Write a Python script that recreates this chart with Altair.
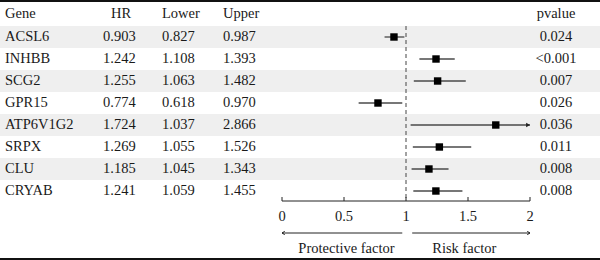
import altair as alt
import pandas as pd

genes = ["ACSL6", "INHBB", "SCG2", "GPR15", "ATP6V1G2", "SRPX", "CLU", "CRYAB"]
hr = [0.903, 1.242, 1.255, 0.774, 1.724, 1.269, 1.185, 1.241]
lower = [0.827, 1.108, 1.063, 0.618, 1.037, 1.055, 1.045, 1.059]
upper = [0.987, 1.393, 1.482, 0.970, 2.866, 1.526, 1.343, 1.455]
pvalues = ["0.024", "<0.001", "0.007", "0.026", "0.036", "0.011", "0.008", "0.008"]
headers = ["Gene", "HR", "Lower", "Upper", "pvalue"]
tick_values = [0, 0.5, 1, 1.5, 2]
tick_labels = ["0", "0.5", "1", "1.5", "2"]
direction_labels = ["Protective factor", "Risk factor"]

FONT = "Liberation Serif"
FS = 14.5
TXT = "#1a1a1a"
XMAX = 2

df = pd.DataFrame({
    "gene": genes,
    "hr": hr,
    "lower": lower,
    "upper": upper,
    "p": pvalues,
})
df["row"] = range(len(df))
df["mid"] = df["row"] + 0.5
df["row2"] = df["row"] + 1
df["hr_s"] = [f"{v:.3f}" for v in hr]
df["lo_s"] = [f"{v:.3f}" for v in lower]
df["up_s"] = [f"{v:.3f}" for v in upper]
df["up_c"] = [min(v, XMAX) for v in upper]
df["over"] = [v > XMAX for v in upper]

xs = alt.Scale(domain=[0, 2], range=[282, 530], nice=False, zero=False)
ys = alt.Scale(domain=[0, 8], range=[26, 202], nice=False, zero=False)

base = alt.Chart(df)

bands = base.transform_filter("datum.row % 2 == 0").mark_rect(color="#efefef").encode(
    x=alt.value(0), x2=alt.value(600),
    y=alt.Y("row:Q", scale=ys, axis=None), y2="row2:Q",
)

frame_top = alt.Chart(pd.DataFrame({"a": [0]})).mark_rule(color="#111", strokeWidth=2).encode(
    x=alt.value(0), x2=alt.value(600), y=alt.value(1)
)
frame_bot = alt.Chart(pd.DataFrame({"a": [0]})).mark_rule(color="#111", strokeWidth=2).encode(
    x=alt.value(0), x2=alt.value(600), y=alt.value(259)
)

ref = alt.Chart(pd.DataFrame({"v": [1]})).mark_rule(color="#444", strokeDash=[4, 3], strokeWidth=1).encode(
    x=alt.X("v:Q", scale=xs, axis=None), y=alt.value(26), y2=alt.value(201)
)

ci = base.mark_rule(color="#4a4a4a", strokeWidth=1.3).encode(
    x=alt.X("lower:Q", scale=xs, axis=None), x2="up_c:Q",
    y=alt.Y("mid:Q", scale=ys, axis=None),
)

arrow_path = "M-1,-0.6 L0,0 L-1,0.6"
ci_arrow = base.transform_filter("datum.over").mark_point(
    shape="M-1,-0.55 L0,0 L-1,0.55 Z", filled=True, color="#222", size=60, opacity=1
).encode(
    x=alt.X("up_c:Q", scale=xs, axis=None),
    y=alt.Y("mid:Q", scale=ys, axis=None),
)

pts = base.mark_point(shape="square", filled=True, color="#000", size=55, opacity=1).encode(
    x=alt.X("hr:Q", scale=xs, axis=None),
    y=alt.Y("mid:Q", scale=ys, axis=None),
)

def col(field, xpos, align="left"):
    return base.mark_text(font=FONT, fontSize=FS, color=TXT, align=align, baseline="middle").encode(
        x=alt.value(xpos), y=alt.Y("mid:Q", scale=ys, axis=None), text=f"{field}:N"
    )

cols = [col("gene", 5), col("hr_s", 103), col("lo_s", 162), col("up_s", 223), col("p", 556, "center")]

hdf = pd.DataFrame({"h": headers, "hx": [5, 111, 162, 223, 556], "al": ["l", "l", "l", "l", "c"]})
hdr_left = alt.Chart(hdf).transform_filter("datum.al == 'l'").mark_text(
    font=FONT, fontSize=FS, color=TXT, align="left", baseline="middle"
).encode(x=alt.X("hx:Q", scale=None), y=alt.value(14), text="h:N")
hdr_c = alt.Chart(hdf).transform_filter("datum.al == 'c'").mark_text(
    font=FONT, fontSize=FS, color=TXT, align="center", baseline="middle"
).encode(x=alt.X("hx:Q", scale=None), y=alt.value(14), text="h:N")

# axis drawn from the tick list through the shared x scale
tdf = pd.DataFrame({"t": tick_values, "lab": tick_labels})
axis_line = alt.Chart(pd.DataFrame({"a": [tick_values[0]], "b": [tick_values[-1]]})).mark_rule(
    color="#222", strokeWidth=1
).encode(x=alt.X("a:Q", scale=xs, axis=None), x2="b:Q", y=alt.value(201))
ticks = alt.Chart(tdf).mark_rule(color="#222", strokeWidth=1).encode(
    x=alt.X("t:Q", scale=xs, axis=None), y=alt.value(197), y2=alt.value(201),
)
tick_text = alt.Chart(tdf).mark_text(font=FONT, fontSize=FS, color=TXT, align="center", baseline="middle").encode(
    x=alt.X("t:Q", scale=xs, axis=None), y=alt.value(217), text="lab:N"
)

adf = pd.DataFrame({"x1": [0.97, 1.05], "x2": [0.0, 2.0], "lab": direction_labels,
                    "lx": [0.52, 1.47], "dir": ["l", "r"]})
arr_lines = alt.Chart(adf).mark_rule(color="#222", strokeWidth=1).encode(
    x=alt.X("x1:Q", scale=xs, axis=None), x2="x2:Q", y=alt.value(233)
)
head_r = alt.Chart(adf).transform_filter("datum.dir == 'r'").mark_point(
    shape=arrow_path, filled=False, color="#222", size=30, strokeWidth=1, opacity=1
).encode(x=alt.X("x2:Q", scale=xs, axis=None), y=alt.value(233))
head_l = alt.Chart(adf).transform_filter("datum.dir == 'l'").mark_point(
    shape="M1,-0.6 L0,0 L1,0.6", filled=False, color="#222", size=30, strokeWidth=1, opacity=1
).encode(x=alt.X("x2:Q", scale=xs, axis=None), y=alt.value(233))
arr_text = alt.Chart(adf).mark_text(font=FONT, fontSize=FS, color=TXT, align="center", baseline="middle").encode(
    x=alt.X("lx:Q", scale=xs, axis=None), y=alt.value(249), text="lab:N"
)

chart = alt.layer(
    bands, frame_top, frame_bot, ref, ci, ci_arrow, pts, *cols, hdr_left, hdr_c,
    axis_line, ticks, tick_text, arr_lines, head_r, head_l, arr_text
).properties(
    width=600, height=201,
    autosize=alt.AutoSizeParams(type="none"),
    padding={"left": 0, "right": 0, "top": 0, "bottom": 59},
).configure_view(stroke=None)

chart.save("out.html", embed_options={"renderer": "svg", "actions": False})
